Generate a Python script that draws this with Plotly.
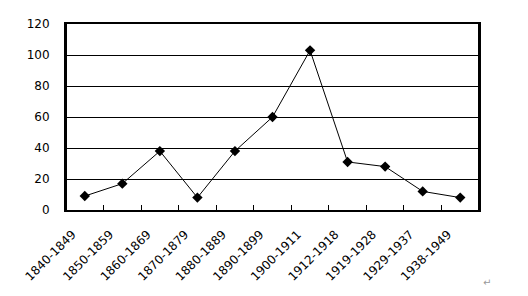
import plotly.graph_objects as go

periods = ["1840-1849", "1850-1859", "1860-1869", "1870-1879", "1880-1889",
           "1890-1899", "1900-1911", "1912-1918", "1919-1928", "1929-1937", "1938-1949"]
values = [9, 17, 38, 8, 38, 60, 103, 31, 28, 12, 8]
y_ticks = [0, 20, 40, 60, 80, 100, 120]

idx = list(range(len(periods)))
shift = 0.33

fig = go.Figure()
fig.add_trace(go.Scatter(
    x=idx, y=values, mode="lines+markers",
    line=dict(color="black", width=1),
    marker=dict(symbol="diamond", size=8, color="black"),
    showlegend=False, hoverinfo="y",
))
fig.add_trace(go.Scatter(
    x=idx, y=values, xaxis="x2", mode="markers",
    marker=dict(opacity=0), showlegend=False, hoverinfo="skip",
))

fig.update_layout(
    width=528, height=296,
    margin=dict(l=66, r=49, t=24, b=84),
    paper_bgcolor="white", plot_bgcolor="white",
    font=dict(family="DejaVu Sans, sans-serif", size=12, color="black"),
    xaxis=dict(
        range=[-0.5, len(periods) - 0.5], showgrid=False, zeroline=False,
        tickvals=[i + 0.5 for i in idx[:-1]], ticks="inside", ticklen=5,
        tickcolor="black", showticklabels=False,
        showline=True, mirror=True, linecolor="black", linewidth=2,
    ),
    xaxis2=dict(
        overlaying="x", anchor="y", side="bottom",
        range=[-0.5 + shift, len(periods) - 0.5 + shift],
        tickvals=idx, ticktext=periods, tickangle=-45, ticks="",
        showgrid=False, zeroline=False, showline=False,
        ticklabelstandoff=14, tickfont=dict(size=12),
    ),
    yaxis=dict(
        range=[0, 120], tickvals=y_ticks, showgrid=True, gridcolor="black",
        gridwidth=1, ticks="", ticklabelstandoff=12, zeroline=False,
        tickfont=dict(size=12),
        showline=True, mirror=True, linecolor="black", linewidth=2,
    ),
)
fig.add_shape(type="line", xref="paper", yref="paper", x0=0, x1=0, y0=0, y1=1,
              line=dict(color="black", width=2))
fig.add_shape(type="line", xref="paper", yref="paper", x0=1, x1=1, y0=0, y1=1,
              line=dict(color="black", width=2))
fig.add_annotation(x=1.035, y=-0.43, xref="paper", yref="paper", text="↵",
                   showarrow=False, font=dict(size=10, color="#999999"))
fig.write_html("out.html")
